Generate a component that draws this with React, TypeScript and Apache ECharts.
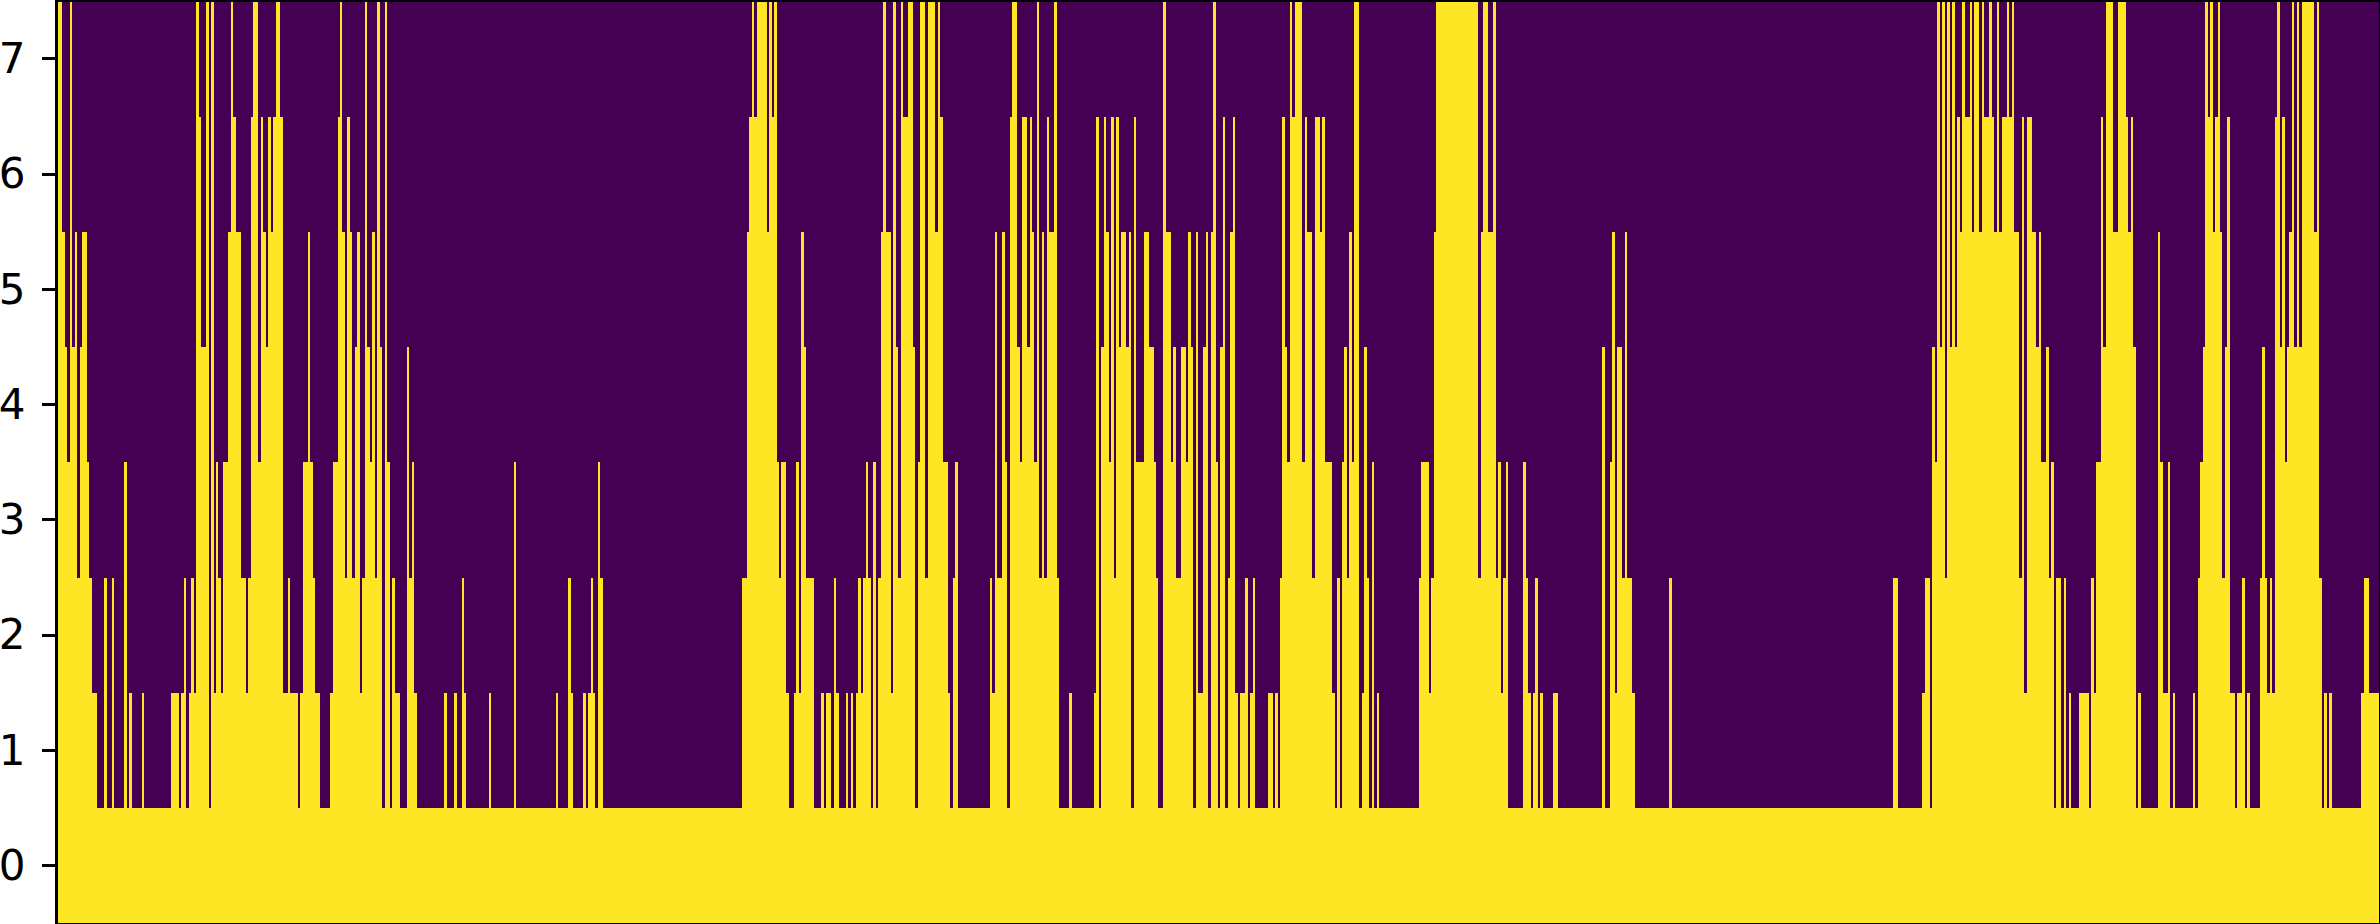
import React, { useEffect, useRef } from "react";
import * as echarts from "echarts";

const rowLabels = ["0", "1", "2", "3", "4", "5", "6", "7"];

// Highest lit row of each column, left to right.
const heightsA = [
  7,7,5,4,3,7,4,5,2,4,5,5,3,2,1,1,0,0,0,2,0,0,2,0,0,0,0,3,0,1,0,0,0,0,1,
  0,0,0,0,0,0,0,0,0,0,0,1,1,1,0,1,2,0,1,2,1,7,6,4,4,7,0,7,1,3,2,1,3,3,5,
  7,6,5,5,2,2,1,2,6,7,7,3,6,5,4,6,5,6,7,7,6,1,1,2,1,1,1,0,1,3,3,5,3,2,1,1,
  0,0,0,0,1,3,3,6,7,5,2,6,5,2,4,5,1,2,7,4,3,5,2,7,4,0,7,3,0,2,1,1,0,0,0,4,2,3,1,
];
const heightsB = [
  0,0,0,0,0,0,0,0,0,0,0,1,0,0,0,1,0,0,2,1,0,0,0,0,0,0,0,0,0,1,
  0,0,0,0,0,0,0,0,0,3,0,0,0,0,0,0,0,0,0,0,0,0,0,0,0,0,1,0,0,0,0,2,1,0,0,0,0,
  1,0,1,2,1,0,3,2,
  0,0,0,0,0,0,0,0,0,0,0,0,0,0,0,0,0,0,0,0,0,0,0,0,0,0,0,0,
  0,0,0,0,0,0,0,0,0,0,0,0,0,0,0,0,0,0,0,0,0,0,0,0,0,0,0,0,
  2,2,5,6,7,6,7,7,7,7,5,7,6,7,3,2,3,3,1,0,0,1,3,1,5,4,2,2,2,
];
const heightsC = [
  0,0,0,1,0,1,1,0,2,1,0,0,0,1,0,1,0,1,2,1,2,3,2,0,3,0,2,5,7,5,5,1,7,4,2,7,6,6,7,7,4,0,3,
  7,7,2,7,7,7,5,7,6,3,3,1,0,2,3,0,0,0,0,0,0,0,0,0,0,0,0,0,2,1,5,2,2,5,3,0,6,7,7,4,3,6,6,
  4,6,5,3,7,2,5,2,6,5,5,7,2,0,0,0,0,1,0,0,0,0,0,0,0,0,0,1,6,
];
const heightsD = [
  0,4,6,5,3,6,2,6,4,5,5,4,5,0,6,3,3,3,5,5,4,4,3,2,0,0,7,5,5,3,4,2,2,4,4,3,5,4,0,5,1,1,4,5,0,
  5,7,3,0,4,6,0,2,5,6,1,0,1,1,2,0,1,2,0,0,0,0,0,1,1,0,1,0,2,6,4,3,7,6,7,7,7,3,6,5,5,2,6,6,5,
  6,3,3,3,1,0,2,0,3,4,2,5,3,7,7,0,1,4,2,0,3,0,1,0,0,0,0,0,0,0,0,0,0,0,0,0,0,0,0,2,3,3,3,1,2,5,
  7,7,7,7,7,7,7,7,7,7,7,7,7,7,7,7,7,2,5,7,7,5,5,7,2,
];
const heightsE = [
  3,1,2,3,0,0,0,0,0,0,3,2,1,0,1,2,0,1,0,0,0,0,1,1,
  0,0,0,0,0,0,0,0,0,0,0,0,0,0,0,0,0,0,4,0,0,3,5,1,4,4,2,5,2,2,1,
  0,0,0,0,0,0,0,0,0,0,0,0,0,0,2,
  0,0,0,0,0,0,0,0,0,0,0,0,0,0,0,0,0,0,0,0,0,0,0,0,0,0,0,0,0,0,
  0,0,0,0,0,0,0,0,0,0,0,0,0,0,0,0,0,0,0,0,0,0,0,0,0,0,0,0,0,0,
  0,0,0,0,0,0,0,0,0,0,0,0,0,0,0,0,0,0,0,0,0,0,0,0,0,0,0,0,0,
  2,2,0,0,0,0,0,0,0,0,0,0,1,2,2,0,4,3,
];
const heightsF = [
  7,4,7,2,7,4,7,4,6,5,7,6,6,7,5,7,7,5,7,6,6,7,6,5,7,5,6,6,7,6,7,5,5,2,6,1,6,6,5,5,4,5,3,3,4,2,3,
  0,2,2,0,2,0,1,0,0,0,1,1,1,1,0,2,1,3,3,6,4,7,7,7,5,5,7,7,7,6,5,6,4,0,1,0,0,0,0,0,0,0,5,3,1,1,3,
  0,1,0,0,0,0,0,0,0,1,0,2,3,4,7,6,7,5,6,7,5,2,4,6,1,1,0,1,1,2,0,1,0,0,0,0,2,4,2,1,2,1,6,7,4,6,3,
  4,5,7,4,7,4,7,7,7,7,7,5,7,2,0,1,0,1,0,0,0,0,0,0,0,0,0,0,0,0,1,2,2,1,1,1,1,
];

const heights = [...heightsA, ...heightsB, ...heightsC, ...heightsD, ...heightsE, ...heightsF];

export default function App() {
  const ref = useRef<HTMLDivElement>(null);
  useEffect(() => {
    document.body.style.margin = "0";
    const chart = echarts.init(ref.current!, null, { renderer: "svg" });
    const cells: number[][] = [];
    heights.forEach((h, col) => {
      rowLabels.forEach((_, row) => cells.push([col, row, row <= h ? 1 : 0]));
    });
    chart.setOption({
      animation: false,
      grid: { left: 57.5, right: 1, top: 1, bottom: 1, containLabel: false, outerBoundsMode: "none" },
      xAxis: {
        type: "category",
        data: heights.map((_, i) => String(i)),
        show: false,
      },
      yAxis: {
        type: "category",
        data: rowLabels,
        axisLine: { show: false },
        splitLine: { show: false },
        axisTick: {
          show: true,
          alignWithLabel: true,
          length: 16,
          lineStyle: { color: "#000", width: 3 },
        },
        axisLabel: {
          show: true,
          interval: 0,
          margin: 32,
          color: "#000",
          fontSize: 42,
          fontFamily: "DejaVu Sans",
        },
      },
      visualMap: {
        show: false,
        type: "continuous",
        min: 0,
        max: 1,
        dimension: 2,
        inRange: { color: ["#440154", "#fde725"] },
      },
      series: [
        {
          type: "heatmap",
          data: cells,
          progressive: 0,
          silent: true,
          emphasis: { disabled: true },
          itemStyle: { borderWidth: 0 },
        },
      ],
      graphic: [
        {
          type: "rect",
          z: 100,
          silent: true,
          shape: { x: 56.3, y: 0.3, width: 2324.1, height: 923.7 },
          style: { fill: "none", stroke: "#000", lineWidth: 2.6 },
        },
      ],
    });
    return () => chart.dispose();
  }, []);
  return <div ref={ref} style={{ width: 2380, height: 924, shapeRendering: "crispEdges" }} />;
}
